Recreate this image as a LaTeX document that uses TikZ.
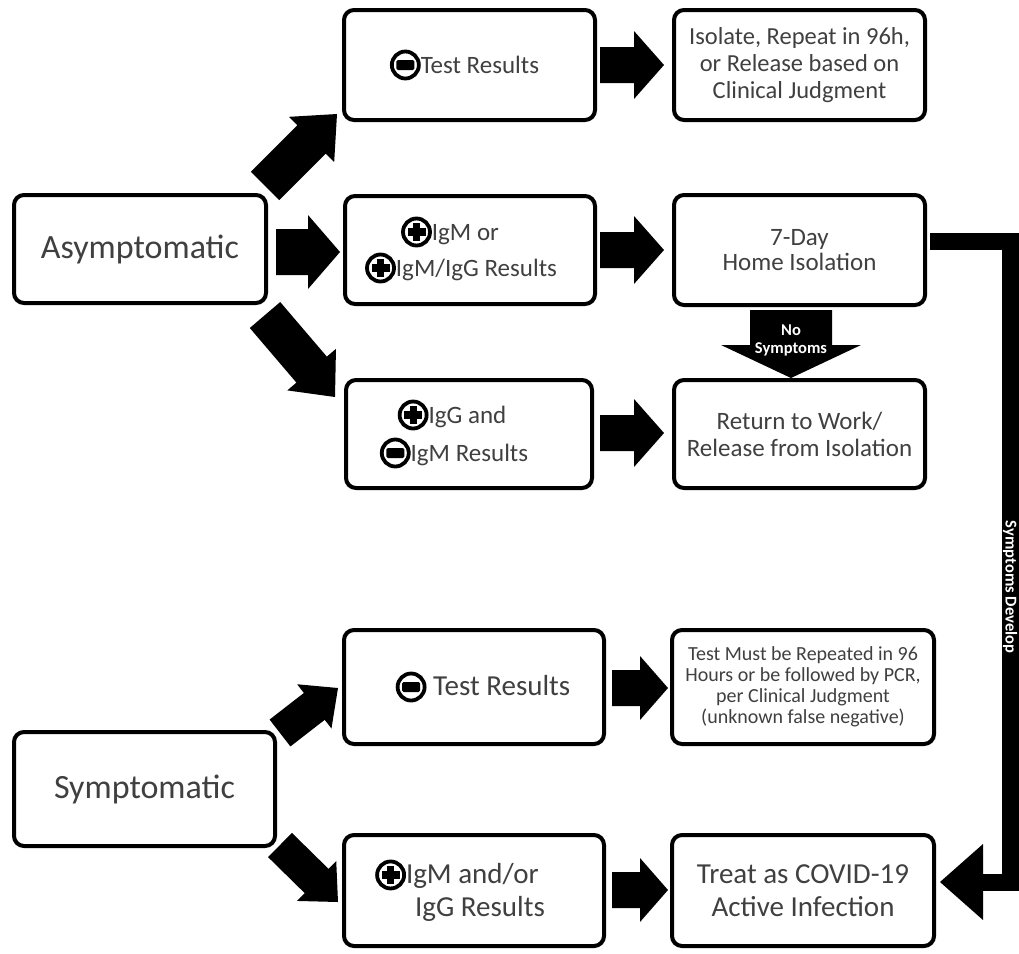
\documentclass[tikz,border=0pt]{standalone}
\usepackage{fontspec}
\setmainfont{Carlito}
\usetikzlibrary{calc}
\definecolor{txt}{RGB}{64,64,64}
\newcommand\cplus{\tikz[baseline={(0pt,-8.5pt)},sharp corners]{\draw[black,fill=none,line width=3.8pt] (0pt,0pt) circle[radius=13.5pt]; \fill[black] (-9pt,-3.6pt) rectangle (9pt,3.6pt); \fill[black] (-3.6pt,-9pt) rectangle (3.6pt,9pt);}}
\newcommand\cminus{\tikz[baseline={(0pt,-8.5pt)},sharp corners]{\draw[black,fill=none,line width=3.8pt] (0pt,0pt) circle[radius=13.5pt]; \fill[black,rounded corners=1.5pt] (-9pt,-5pt) rectangle (9pt,5pt);}}
\newcommand\barrow[5]{% tail, tip, shaft half, head half, head length
  \coordinate (bb) at ($(#2)!#5!(#1)$);
  \fill[black] ($(#1)!#3!90:(#2)$) -- ($(bb)!#3!-90:(#1)$) -- ($(bb)!#4!-90:(#1)$) -- (#2)
    -- ($(bb)!#4!90:(#1)$) -- ($(bb)!#3!90:(#1)$) -- ($(#1)!#3!-90:(#2)$) -- cycle;}
\tikzset{
  box/.style={draw=black, line width=4pt, rounded corners=10pt, fill=white, align=center,
    text=txt, inner sep=0pt},
  fa/.style={font=\fontsize{25}{27}\selectfont},
}
\begin{document}
\begin{tikzpicture}[x=1pt,y=-1pt]
\useasboundingbox[fill=white] (0,0) rectangle (1019,953);
% boxes
\node[box, minimum width=252pt, minimum height=108pt, font=\fontsize{34}{36}\selectfont] (asym) at (140,249) {Asymptomatic};
\node[box, minimum width=251pt, minimum height=110pt, fa] (neg1) at (469.5,65) {\cminus Test Results\hspace*{10pt}};
\node[box, minimum width=251pt, minimum height=110pt, font=\fontsize{24.5}{27}\selectfont] (iso) at (799.5,65) {Isolate, Repeat in 96h,\\or Release based on\\Clinical Judgment};
\node[box, minimum width=250pt, minimum height=108pt, font=\fontsize{25}{36}\selectfont] (igm) at (470,250) {\cplus IgM or\hspace*{40pt}\\\cplus IgM/IgG Results\hspace*{18pt}};
\node[box, minimum width=251pt, minimum height=110pt, font=\fontsize{25}{25}\selectfont] (day7) at (799.5,250) {7-Day\\Home Isolation};
\node[box, minimum width=246pt, minimum height=108pt, font=\fontsize{25}{38}\selectfont] (igg) at (469,434) {\cplus IgG and\hspace*{34pt}\\\cminus IgM Results\hspace*{30pt}};
\node[box, minimum width=251pt, minimum height=108pt, font=\fontsize{25}{27}\selectfont] (ret) at (799.5,434) {Return to Work/\\Release from Isolation};
\node[box, minimum width=261pt, minimum height=114pt, font=\fontsize{34}{36}\selectfont] (sym) at (144.5,789) {Symptomatic};
\node[box, minimum width=260pt, minimum height=114pt, font=\fontsize{29}{33}\selectfont] (neg2) at (474,687) {\hspace*{18pt}\cminus\ Test Results};
\node[box, minimum width=262pt, minimum height=114pt, font=\fontsize{20}{21}\selectfont] (must) at (803,687) {Test Must be Repeated in 96\\Hours or be followed by PCR,\\per Clinical Judgment\\(unknown false negative)};
\node[box, minimum width=260pt, minimum height=111pt, font=\fontsize{29}{33}\selectfont] (igmg) at (474,890.5) {\cplus IgM and/or\hspace*{34pt}\\\hspace*{12pt}IgG Results};
\node[box, minimum width=262pt, minimum height=111pt, font=\fontsize{29}{33}\selectfont] (treat) at (803,890.5) {Treat as COVID-19\\Active Infection};
% arrow end points
\coordinate (t1) at (265,186); \coordinate (h1) at (337,114);
\coordinate (t2) at (276,252); \coordinate (h2) at (340,252);
\coordinate (t3) at (265,315); \coordinate (h3) at (335,397);
\coordinate (t4) at (600,65);  \coordinate (h4) at (664,65);
\coordinate (t5) at (600,250); \coordinate (h5) at (664,250);
\coordinate (t6) at (600,433); \coordinate (h6) at (664,433);
\coordinate (t7) at (280,733); \coordinate (h7) at (338,688);
\coordinate (t8) at (280,845); \coordinate (h8) at (338,902);
\coordinate (t9) at (612,688); \coordinate (h9) at (668,688);
\coordinate (t10) at (612,890); \coordinate (h10) at (668,890);
\coordinate (t11) at (791,310); \coordinate (h11) at (791,378);
\barrow{t1}{h1}{20pt}{32pt}{36pt}
\barrow{t2}{h2}{23pt}{37pt}{32pt}
\barrow{t3}{h3}{20pt}{32pt}{36pt}
\barrow{t4}{h4}{18pt}{34pt}{30pt}
\barrow{t5}{h5}{18pt}{34pt}{30pt}
\barrow{t6}{h6}{18pt}{34pt}{30pt}
\barrow{t7}{h7}{17pt}{28pt}{30pt}
\barrow{t8}{h8}{17pt}{28pt}{30pt}
\barrow{t9}{h9}{18pt}{32pt}{28pt}
\barrow{t10}{h10}{18pt}{32pt}{28pt}
\barrow{t11}{h11}{41pt}{70pt}{33pt}
\node[text=white, align=center, font=\bfseries\fontsize{16.5}{18}\selectfont] (nos) at (791,340) {No\\Symptoms};
% symptoms develop connector
\coordinate (s0) at (930,241);
\coordinate (s1) at (1010.5,241);
\coordinate (s2) at (1010.5,882);
\coordinate (s3) at (983,882);
\coordinate (sh) at (940,882);
\draw[line width=17pt] (s0) -- (s1) -- (s2) [rounded corners=14pt] -- (s3);
\fill[black] ($(s3)+(0,-38)$) -- ($(s3)+(0,38)$) -- (sh) -- cycle;
\node[rotate=-90, text=white, inner sep=0pt, font=\bfseries\fontsize{16.5}{17}\selectfont] (sd) at (1010,587) {Symptoms Develop};
\end{tikzpicture}
\end{document}
